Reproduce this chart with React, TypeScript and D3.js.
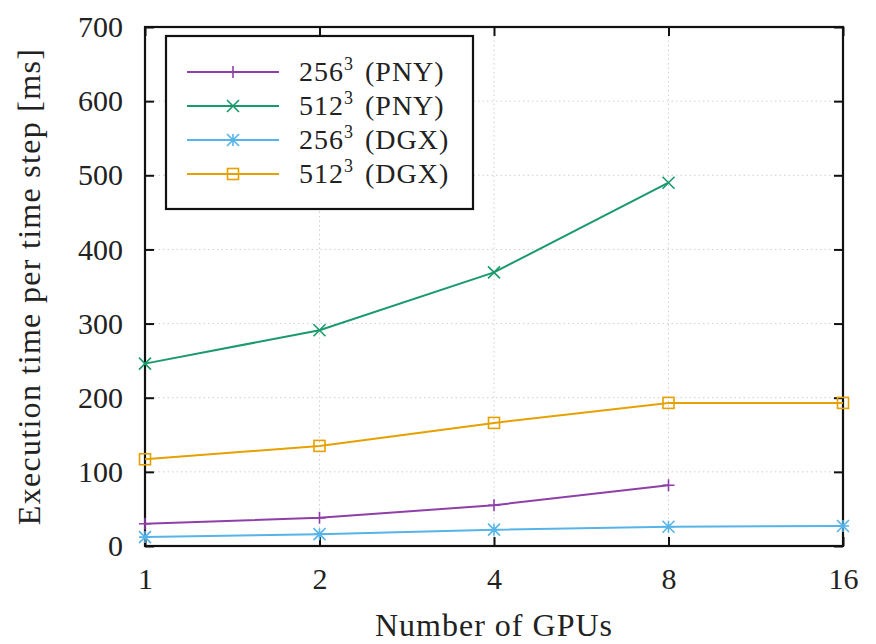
import React, { useRef, useEffect } from 'react';
import * as d3 from 'd3';

const gpus = [1, 2, 4, 8, 16];
const yTicks = [0, 100, 200, 300, 400, 500, 600, 700];

const pny256 = [30, 38, 55, 82];
const pny512 = [246, 291, 369, 490];
const dgx256 = [12, 16, 22, 26, 27];
const dgx512 = [117, 135, 166, 193, 193];

const seriesNames = ['256', '512', '256', '512'];
const seriesTags = ['(PNY)', '(PNY)', '(DGX)', '(DGX)'];
const seriesColors = ['#8e3fa8', '#1a9a6c', '#56b4e9', '#e6a000'];
const seriesMarkers = ['plus', 'cross', 'star', 'square'];

const App = () => {
  const svgRef = useRef<SVGSVGElement>(null);

  useEffect(() => {
    const width = 876;
    const height = 644;
    const svg = d3.select(svgRef.current).attr('width', width).attr('height', height);
    svg.selectAll('*').remove();

    const margin = { top: 27, right: 33, bottom: 98, left: 145 };
    const innerW = width - margin.left - margin.right;
    const innerH = height - margin.top - margin.bottom;
    const font = '"Liberation Serif", "DejaVu Serif", serif';

    const g = svg.append('g').attr('transform', `translate(${margin.left},${margin.top})`);

    const x = d3.scaleLog().base(2).domain([1, 16]).range([0, innerW]);
    const y = d3.scaleLinear().domain([0, 700]).range([innerH, 0]);

    // grid
    g.selectAll('.hgrid')
      .data(yTicks.slice(1, -1))
      .enter()
      .append('line')
      .attr('x1', 0)
      .attr('x2', innerW)
      .attr('y1', d => y(d))
      .attr('y2', d => y(d))
      .attr('stroke', '#cfcfcf')
      .attr('stroke-width', 1)
      .attr('stroke-dasharray', '1.5,3');
    g.selectAll('.vgrid')
      .data(gpus.slice(1, -1))
      .enter()
      .append('line')
      .attr('x1', d => x(d))
      .attr('x2', d => x(d))
      .attr('y1', 0)
      .attr('y2', innerH)
      .attr('stroke', '#cfcfcf')
      .attr('stroke-width', 1)
      .attr('stroke-dasharray', '1.5,3');

    // axes (ticks inward, mirrored)
    const tickLen = 9;
    const axisL = g.append('g').call(d3.axisLeft(y).tickValues(yTicks).tickSizeInner(-tickLen).tickSizeOuter(0).tickPadding(22));
    const axisB = g.append('g').attr('transform', `translate(0,${innerH})`)
      .call(d3.axisBottom(x).tickValues(gpus).tickFormat(d => String(d)).tickSizeInner(-tickLen).tickSizeOuter(0).tickPadding(22));
    const axisR = g.append('g').attr('transform', `translate(${innerW},0)`)
      .call(d3.axisRight(y).tickValues(yTicks).tickSizeInner(-tickLen).tickSizeOuter(0).tickFormat(() => ''));
    const axisT = g.append('g')
      .call(d3.axisTop(x).tickValues(gpus).tickSizeInner(-tickLen).tickSizeOuter(0).tickFormat(() => ''));
    [axisL, axisB, axisR, axisT].forEach(a => {
      a.select('.domain').remove();
      a.attr('font-family', font).attr('font-size', 30);
      a.selectAll('line').attr('stroke', '#111').attr('stroke-width', 2);
      a.selectAll('text').attr('fill', '#222');
    });

    g.append('rect')
      .attr('width', innerW)
      .attr('height', innerH)
      .attr('fill', 'none')
      .attr('stroke', '#111')
      .attr('stroke-width', 2.2);

    // series
    const allSeries = [pny256, pny512, dgx256, dgx512];
    const line = d3.line<number>().x((_, i) => x(gpus[i])).y(d => y(d));

    const drawMarker = (sel: any, kind: string, color: string, cx: number, cy: number) => {
      const s = 6;
      let d = '';
      if (kind === 'plus') {
        d = `M${cx - s},${cy}H${cx + s}M${cx},${cy - s}V${cy + s}`;
      } else if (kind === 'cross') {
        d = `M${cx - s},${cy - s}L${cx + s},${cy + s}M${cx - s},${cy + s}L${cx + s},${cy - s}`;
      } else if (kind === 'star') {
        d = `M${cx - s},${cy}H${cx + s}M${cx},${cy - s}V${cy + s}M${cx - s},${cy - s}L${cx + s},${cy + s}M${cx - s},${cy + s}L${cx + s},${cy - s}`;
      }
      if (d) {
        sel.append('path').attr('d', d).attr('stroke', color).attr('stroke-width', 1.6).attr('fill', 'none');
      } else {
        sel.append('rect').attr('x', cx - 5.5).attr('y', cy - 5.5).attr('width', 11).attr('height', 11)
          .attr('stroke', color).attr('stroke-width', 1.6).attr('fill', 'none');
      }
    };

    allSeries.forEach((vals, si) => {
      g.append('path')
        .datum(vals)
        .attr('d', line)
        .attr('fill', 'none')
        .attr('stroke', seriesColors[si])
        .attr('stroke-width', 2);
      vals.forEach((v, i) => drawMarker(g, seriesMarkers[si], seriesColors[si], x(gpus[i]), y(v)));
    });

    // legend
    const lg = svg.append('g').attr('transform', 'translate(166,36)');
    lg.append('rect').attr('width', 307).attr('height', 173).attr('fill', '#fff')
      .attr('stroke', '#111').attr('stroke-width', 2.2);
    seriesNames.forEach((name, i) => {
      const ry = 36 + i * 34;
      lg.append('line').attr('x1', 21).attr('x2', 113).attr('y1', ry).attr('y2', ry)
        .attr('stroke', seriesColors[i]).attr('stroke-width', 2);
      drawMarker(lg, seriesMarkers[i], seriesColors[i], 67, ry);
      const t = lg.append('text').attr('x', 133).attr('y', ry + 9)
        .attr('font-family', font).attr('font-size', 28).attr('letter-spacing', 1).attr('fill', '#222');
      t.append('tspan').text(name);
      t.append('tspan').attr('font-size', 18).attr('dy', -11).text('3');
      t.append('tspan').attr('dy', 11).attr('dx', 11).text(seriesTags[i]);
    });

    // axis titles
    svg.append('text')
      .attr('x', margin.left + x(4))
      .attr('y', 636)
      .attr('text-anchor', 'middle')
      .attr('font-family', font).attr('font-size', 32).attr('letter-spacing', 1).attr('fill', '#222')
      .text('Number of GPUs');
    svg.append('text')
      .attr('transform', `translate(40,${margin.top + innerH / 2}) rotate(-90)`)
      .attr('text-anchor', 'middle')
      .attr('font-family', font).attr('font-size', 32).attr('letter-spacing', 1.3).attr('fill', '#222')
      .text('Execution time per time step [ms]');
  }, []);

  return <svg ref={svgRef} style={{ position: 'absolute', left: 0, top: 0 }}></svg>;
};

export default App;
